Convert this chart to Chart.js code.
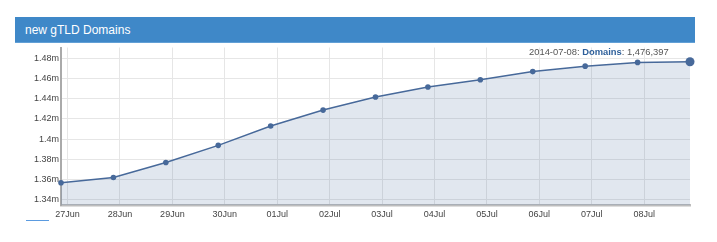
<!DOCTYPE html>
<html>
<head>
<meta charset="utf-8">
<script src="https://cdn.jsdelivr.net/npm/chart.js@4/dist/chart.umd.min.js"></script>
<style>
  html, body { margin: 0; padding: 0; background: #fff; }
  body { width: 717px; height: 242px; position: relative; overflow: hidden; font-family: "Liberation Sans", Arial, sans-serif; }
  .panel-head {
    position: absolute; left: 15px; top: 17px; width: 680px; height: 26px;
    background: #3f88c8; border-bottom: 1px solid #62a0d6;
    color: #fff; font-size: 12px; line-height: 26px; padding-left: 10px; box-sizing: border-box;
  }
  .range-bar { position: absolute; left: 26px; top: 220px; width: 23px; height: 1px; background: #5b9be0; }
  #chart { position: absolute; left: 0; top: 0; }
</style>
</head>
<body>
<div class="panel-head">new gTLD Domains</div>
<div class="range-bar"></div>
<canvas id="chart" width="717" height="242"></canvas>
<script>
// daily snapshots (dates as shown in the tooltip, local time)
const dates = ['2014-06-26', '2014-06-27', '2014-06-28', '2014-06-29', '2014-06-30', '2014-07-01',
  '2014-07-02', '2014-07-03', '2014-07-04', '2014-07-05', '2014-07-06', '2014-07-07', '2014-07-08'];
const domains = [1356900, 1362100, 1377000, 1393900, 1413000, 1428700,
  1441600, 1451500, 1458700, 1466700, 1472100, 1475800, 1476397];
const xTickLabels = ['27Jun', '28Jun', '29Jun', '30Jun', '01Jul', '02Jul',
  '03Jul', '04Jul', '05Jul', '06Jul', '07Jul', '08Jul'];
const yTicks = [1340000, 1360000, 1380000, 1400000, 1420000, 1440000, 1460000, 1480000];

const lastIdx = domains.length - 1;
const points = domains.map((v, i) => ({ x: i, y: v }));
const tickFont = { family: '"Liberation Sans", Arial, sans-serif', size: 9 };

// hover readout shown at the top of the plot
const readout = {
  id: 'readout',
  afterDraw(chart) {
    const ctx = chart.ctx;
    const el = chart.getDatasetMeta(0).data[lastIdx];
    const parts = [
      [dates[lastIdx] + ': ', '#555', 'normal'],
      ['Domains', '#2d5f9a', 'bold'],
      [': ' + domains[lastIdx].toLocaleString('en-US'), '#555', 'normal']
    ];
    let x = el.x - 161;
    const y = chart.chartArea.top + 5;
    ctx.save();
    ctx.textBaseline = 'middle';
    parts.forEach(([t, c, w]) => {
      ctx.font = w + ' 9.4px "Liberation Sans", Arial, sans-serif';
      ctx.fillStyle = c;
      ctx.fillText(t, x, y);
      x += ctx.measureText(t).width;
    });
    ctx.restore();
  }
};

new Chart(document.getElementById('chart'), {
  type: 'line',
  data: {
    datasets: [{
      label: 'Domains',
      data: points,
      borderColor: '#47699a',
      borderWidth: 1.5,
      backgroundColor: 'rgba(69,105,154,0.16)',
      fill: 'start',
      tension: 0,
      pointBackgroundColor: '#47699a',
      pointBorderColor: '#47699a',
      pointRadius: c => c.dataIndex === lastIdx ? 4.5 : 2.8,
      pointBorderWidth: 0,
      clip: 5
    }]
  },
  options: {
    responsive: false,
    animation: false,
    events: [],
    layout: { padding: { left: 15, right: 27, top: 47.5, bottom: 17 } },
    plugins: { legend: { display: false }, tooltip: { enabled: false } },
    scales: {
      x: {
        type: 'linear',
        min: 0,
        max: lastIdx,
        afterBuildTicks: s => { s.ticks = xTickLabels.map((_, i) => ({ value: i + 0.125 })); },
        afterFit: s => { s.height = 20; },
        ticks: {
          callback: (v, i) => xTickLabels[i],
          color: '#444',
          font: tickFont,
          padding: 4,
          maxRotation: 0,
          autoSkip: false
        },
        grid: { color: '#e6e6e6', drawTicks: false },
        border: { color: '#bdbdbd', width: 2.5 }
      },
      y: {
        min: 1335000,
        max: 1490500,
        afterBuildTicks: s => { s.ticks = yTicks.map(v => ({ value: v })); },
        afterFit: s => { s.width = 46; },
        ticks: {
          callback: v => parseFloat((v / 1e6).toFixed(2)) + 'm',
          color: '#444',
          font: tickFont,
          padding: 2
        },
        grid: { color: '#e6e6e6', drawTicks: false },
        border: { color: '#aaaaaa', width: 2 }
      }
    }
  },
  plugins: [readout]
});
</script>
</body>
</html>
